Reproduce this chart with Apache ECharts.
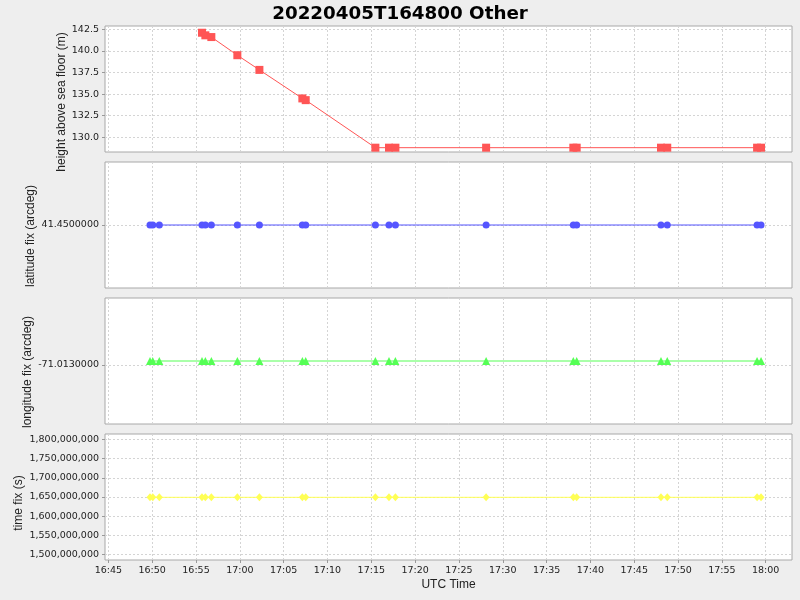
<!DOCTYPE html>
<html><head><meta charset="utf-8">
<script src="https://cdn.jsdelivr.net/npm/echarts@6/dist/echarts.min.js"></script>
<style>html,body{margin:0;padding:0;background:#eeeeee}#c{width:800px;height:600px}</style>
</head><body><div id="c"></div>
<script>
const chartTitle = '20220405T164800 Other';
const xAxisTitle = 'UTC Time';
const yAxisTitles = ['height above sea floor (m)', 'latitude fix (arcdeg)', 'longitude fix (arcdeg)', 'time fix (s)'];

// x range of the shared time axis (UTC, 2022-04-05)
const xRange = ['16:44:37', '18:03:00'];
const xTickLabels = ['16:45','16:50','16:55','17:00','17:05','17:10','17:15','17:20','17:25','17:30','17:35','17:40','17:45','17:50','17:55','18:00'];

// fix times (UTC)
const fixTimes = ['16:49:45','16:50:04','16:50:49','16:55:41','16:56:04','16:56:45','16:59:43','17:02:14','17:07:08','17:07:31',
                  '17:15:28','17:17:01','17:17:45','17:28:06','17:38:03','17:38:26','17:48:03','17:48:46','17:59:01','17:59:28'];
const heightTimes = ['16:55:41','16:56:04','16:56:45','16:59:43','17:02:14','17:07:08','17:07:31',
                     '17:15:28','17:17:01','17:17:45','17:28:06','17:38:03','17:38:26','17:48:03','17:48:46','17:59:01','17:59:28'];

const heightValues = [142.1, 141.8, 141.6, 139.5, 137.8, 134.5, 134.3,
                      128.8, 128.8, 128.8, 128.8, 128.8, 128.8, 128.8, 128.8, 128.8, 128.8];
const latitudeValues = [41.45,41.45,41.45,41.45,41.45,41.45,41.45,41.45,41.45,41.45,
                        41.45,41.45,41.45,41.45,41.45,41.45,41.45,41.45,41.45,41.45];
const longitudeValues = [-71.0129937,-71.0129937,-71.0129937,-71.0129937,-71.0129937,-71.0129937,-71.0129937,-71.0129937,-71.0129937,-71.0129937,
                         -71.0129937,-71.0129937,-71.0129937,-71.0129937,-71.0129937,-71.0129937,-71.0129937,-71.0129937,-71.0129937,-71.0129937];
const timeFixValues = [1649177385,1649177404,1649177449,1649177741,1649177764,1649177805,1649177983,1649178134,1649178428,1649178451,
                       1649178928,1649179021,1649179065,1649179686,1649180283,1649180306,1649180883,1649180926,1649181541,1649181568];

// y axis ranges and ticks
const heightRange = [128.30, 142.88];
const heightTicks = [130.0, 132.5, 135.0, 137.5, 140.0, 142.5];
const latitudeRange = [41.4499, 41.4501];
const latitudeTicks = [41.45];
const longitudeRange = [-71.0130937, -71.0128937];
const longitudeTicks = [-71.013];
const timeFixRange = [1486200000, 1813800000];
const timeFixTicks = [1500000000, 1550000000, 1600000000, 1650000000, 1700000000, 1750000000, 1800000000];

function toMs(hms) {
  const p = hms.split(':').map(Number);
  return Date.UTC(2022, 3, 5, p[0], p[1], p[2] || 0);
}
function pad(n) { return (n < 10 ? '0' : '') + n; }

const FONT = 'DejaVu Sans';
const NAMEFONT = 'Liberation Sans';
const gridTops = [26, 162, 298, 434];
const gridH = 126;

const grids = gridTops.map(t => ({
  left: 105, right: 8, top: t, height: gridH,
  show: true, backgroundColor: '#ffffff', borderColor: '#a8a8a8', borderWidth: 1
}));

const splitLine = { show: true, lineStyle: { color: '#d4d4d4', type: [2, 2], width: 1 } };

const xAxes = gridTops.map((t, i) => ({
  type: 'value', gridIndex: i,
  min: toMs(xRange[0]), max: toMs(xRange[1]),
  axisLine: { show: false },
  axisTick: { show: i === 3, length: 3, lineStyle: { color: '#999' }, customValues: xTickLabels.map(toMs) },
  axisLabel: { show: i === 3, customValues: xTickLabels.map(toMs), margin: 6, color: '#222', fontFamily: FONT, fontSize: 9.5,
    formatter: v => { const d = new Date(v); return pad(d.getUTCHours()) + ':' + pad(d.getUTCMinutes()); } },
  splitLine: splitLine,
  name: i === 3 ? xAxisTitle : '', nameLocation: 'middle', nameGap: 19, nameMoveOverlap: false,
  nameTextStyle: { fontFamily: NAMEFONT, fontSize: 12, color: '#222' }
}));

function yAxis(i, range, ticks, fmt, gap, shift) {
  return {
    type: 'value', gridIndex: i, min: range[0], max: range[1], scale: true,
    axisLine: { show: false },
    axisTick: { show: true, length: 3, lineStyle: { color: '#999' }, customValues: ticks },
    axisLabel: { customValues: ticks, margin: 6, color: '#222', fontFamily: FONT, fontSize: 9.5, formatter: fmt },
    splitLine: splitLine,
    name: yAxisTitles[i], nameLocation: 'middle', nameGap: gap, nameRotate: 90, nameMoveOverlap: false,
    nameTextStyle: { fontFamily: NAMEFONT, fontSize: 12, color: '#222', padding: [0, shift * 2, 0, 0] }
  };
}

const yAxes = [
  yAxis(0, heightRange, heightTicks, v => v.toFixed(1), 37, 13),
  yAxis(1, latitudeRange, latitudeTicks, v => v.toFixed(7), 68, 11),
  yAxis(2, longitudeRange, longitudeTicks, v => v.toFixed(7), 71, 11),
  yAxis(3, timeFixRange, timeFixTicks, v => Math.round(v).toLocaleString('en-US'), 80, 6)
];

function lineSeries(i, times, vals, color, symbol, size) {
  return {
    type: 'line', xAxisIndex: i, yAxisIndex: i,
    data: times.map((t, k) => [toMs(t), vals[k]]),
    symbol: symbol, symbolSize: size, showAllSymbol: true,
    itemStyle: { color: color }, lineStyle: { color: color, width: 1 },
    emphasis: { disabled: true }, animation: false
  };
}

const chart = echarts.init(document.getElementById('c'), null, { renderer: 'canvas' });
chart.setOption({
  backgroundColor: '#eeeeee',
  animation: false,
  title: { text: chartTitle, left: 'center', top: 0,
    textStyle: { fontFamily: FONT, fontWeight: 'bold', fontSize: 18.3, color: '#000' } },
  grid: grids,
  xAxis: xAxes,
  yAxis: yAxes,
  series: [
    lineSeries(0, heightTimes, heightValues, '#ff5555', 'rect', 8),
    lineSeries(1, fixTimes, latitudeValues, '#5555ff', 'circle', 7),
    lineSeries(2, fixTimes, longitudeValues, '#55ff55', 'triangle', 8),
    lineSeries(3, fixTimes, timeFixValues, '#ffff55', 'diamond', [7, 8])
  ]
});
</script></body></html>
